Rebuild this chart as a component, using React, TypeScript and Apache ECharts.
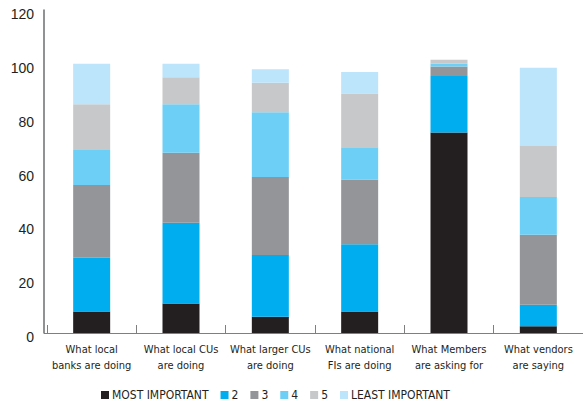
import React, { useEffect, useRef } from "react";
import * as echarts from "echarts";

const categories = [
  "What local\nbanks are doing",
  "What local CUs\nare doing",
  "What larger CUs\nare doing",
  "What national\nFIs are doing",
  "What Members\nare asking for",
  "What vendors\nare saying",
];
const seriesNames = ["MOST IMPORTANT", "2", "3", "4", "5", "LEAST IMPORTANT"];
const mostImportant = [8, 11, 6, 8, 74.5, 2.5];
const rank2 = [20, 30, 23, 25, 21, 8];
const rank3 = [27, 26, 29, 24, 3.5, 26];
const rank4 = [13, 18, 24, 12, 1, 14];
const rank5 = [17, 10, 11, 20, 1.5, 19];
const leastImportant = [15, 5, 5, 8, 0, 29];
const yTicks = [0, 20, 40, 60, 80, 100, 120];

const colors = ["#231f20", "#00aeef", "#939598", "#6dcff6", "#c7c8ca", "#bce4fa"];
const condensed = "'Liberation Sans Narrow', 'DejaVu Sans Condensed', 'Liberation Sans', sans-serif";

export default function App() {
  const ref = useRef<HTMLDivElement>(null);
  useEffect(() => {
    document.body.style.margin = "0";
    const chart = echarts.init(ref.current!, null, { renderer: "svg" });
    const all = [mostImportant, rank2, rank3, rank4, rank5, leastImportant];
    chart.setOption({
      animation: false,
      color: colors,
      grid: { left: 47, right: -10, top: 10, bottom: 71 },
      graphic: [
        {
          type: "line",
          shape: { x1: 44, y1: 333.5, x2: 48, y2: 333.5 },
          style: { stroke: "#7f7f7f", lineWidth: 1 },
        },
      ],
      legend: {
        left: 96,
        bottom: -2,
        itemWidth: 8,
        itemHeight: 8,
        itemGap: 12,
        icon: "rect",
        textStyle: {
          fontSize: 12,
          color: "#231f20",
          fontFamily: condensed,
          padding: [0, 0, 0, -2],
        },
        data: seriesNames,
      },
      xAxis: {
        type: "category",
        data: categories,
        axisLine: { lineStyle: { color: "#7f7f7f", width: 1 } },
        axisTick: { show: true, inside: true, length: 8, lineStyle: { color: "#7f7f7f" } },
        axisLabel: {
          interval: 0,
          margin: 8,
          fontSize: 11,
          lineHeight: 16,
          color: "#231f20",
          fontFamily: condensed,
        },
      },
      yAxis: {
        type: "value",
        min: yTicks[0],
        max: yTicks[yTicks.length - 1],
        interval: 20,
        offset: 3,
        splitLine: { show: false },
        axisLine: { show: true, lineStyle: { color: "#6d6e71", width: 1.5 } },
        axisTick: { show: false },
        axisLabel: {
          margin: 10,
          formatter: "{v|{value}}",
          rich: {
            v: {
              fontSize: 14,
              color: "#231f20",
              padding: [8, 0, 0, 0],
              fontFamily: "'Liberation Sans', Arial, sans-serif",
            },
          },
        },
      },
      series: seriesNames.map((name, i) => ({
        name,
        type: "bar",
        stack: "total",
        barWidth: 37,
        data: all[i],
        itemStyle: { color: colors[i] },
      })),
    });
    return () => chart.dispose();
  }, []);
  return <div ref={ref} style={{ width: 583, height: 404 }} />;
}
